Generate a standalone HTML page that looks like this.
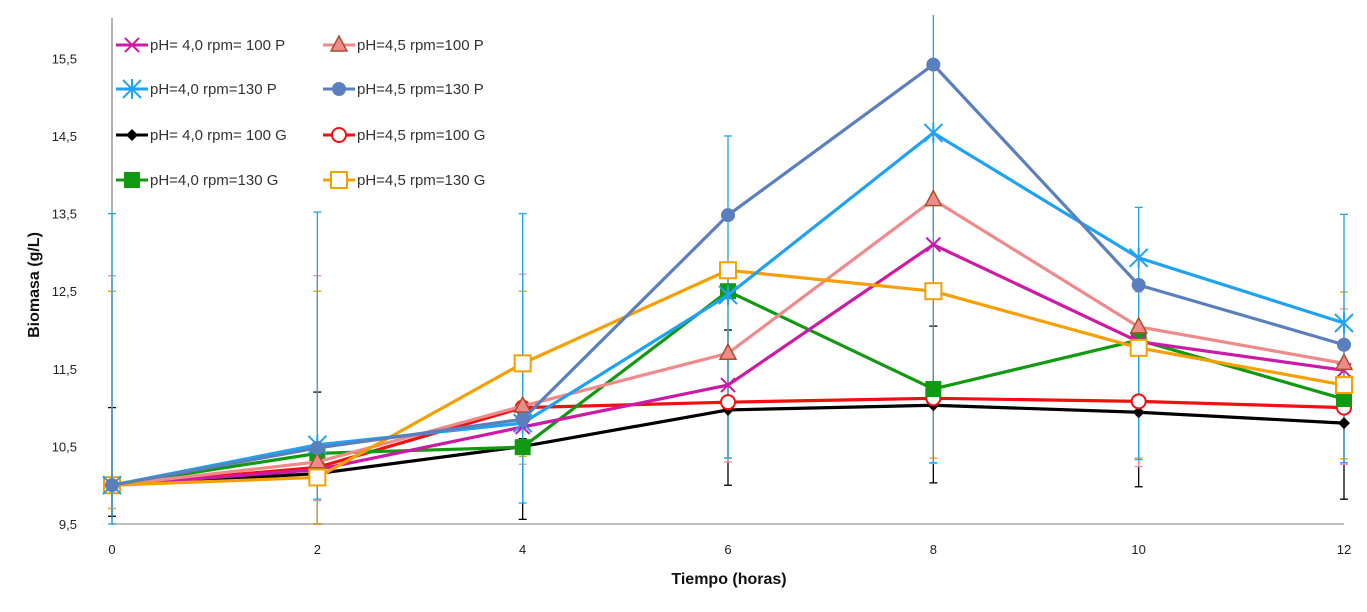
<!DOCTYPE html>
<html><head><meta charset="utf-8"><style>
body{margin:0;background:#fff;}
svg text{font-family:"Liberation Sans",sans-serif;}
</style></head><body>
<svg id="c" width="1367" height="607" xmlns="http://www.w3.org/2000/svg"></svg>
<script>
const hours=[0,2,4,6,8,10,12];
const yTicks=[9.5,10.5,11.5,12.5,13.5,14.5,15.5];
const yTickLabels=["9,5","10,5","11,5","12,5","13,5","14,5","15,5"];
const labels=["pH= 4,0 rpm= 100 P","pH=4,5 rpm=100 P","pH=4,0 rpm=130 P","pH=4,5 rpm=130 P","pH= 4,0 rpm= 100 G","pH=4,5 rpm=100 G","pH=4,0 rpm=130 G","pH=4,5 rpm=130 G"];
const s1=[10.0,10.2,10.75,11.29,13.1,11.85,11.48];
const s2=[10.0,10.3,11.02,11.7,13.68,12.04,11.57];
const s3=[10.0,10.52,10.8,12.45,14.54,12.93,12.09];
const s4=[10.0,10.48,10.85,13.48,15.42,12.58,11.81];
const s5=[10.0,10.15,10.5,10.97,11.03,10.94,10.8];
const s6=[10.0,10.23,11.0,11.07,11.12,11.08,11.0];
const s7=[10.0,10.41,10.49,12.5,11.24,11.87,11.11];
const s8=[10.0,10.1,11.57,12.77,12.5,11.77,11.29];
const errUp3=[3.5,3.0,2.7,2.05,1.55,0.65,1.4];
const errDn3=[0.5,0.7,1.03,2.1,4.25,2.6,1.8];
const errUp2=[2.7,2.4,1.7,0.0,0.0,0.45,0.7];
const errDn2=[0.3,0.5,0.75,1.4,3.4,1.8,1.3];
const errUp8=[2.5,2.4,0.93,0.0,0.0,0.0,1.2];
const errDn8=[0.3,0.6,1.2,2.42,2.15,1.42,0.95];
const errUp5=[1.0,1.05,0.1,1.03,1.02,0.0,0.0];
const errDn5=[0.4,0.65,0.94,0.97,1.0,0.96,0.98];
const series=[
{d:s1,c:"#cc1aa6",m:"x"},{d:s2,c:"#f08a8a",m:"tri"},{d:s3,c:"#1fa2f0",m:"star"},{d:s4,c:"#5a7fbf",m:"circle"},
{d:s5,c:"#000",m:"diamond"},{d:s6,c:"#f01010",m:"ocircle"},{d:s7,c:"#119a11",m:"square"},{d:s8,c:"#f5a000",m:"osquare"}];
const NS="http://www.w3.org/2000/svg",svg=document.getElementById('c');
const X0=112,X1=1344,Y0=524,PY=77.6;
const xs=h=>X0+(h/12)*(X1-X0);
const ys=v=>Y0-(v-9.5)*PY;
function mk(t,a,p){const e=document.createElementNS(NS,t);for(const k in a)e.setAttribute(k,a[k]);(p||svg).appendChild(e);return e;}
const ya=mk('line',{x1:X0,y1:18,x2:X0,y2:Y0,stroke:'#999','stroke-width':1.5});

const xa=mk('line',{x1:X0,y1:Y0,x2:X1,y2:Y0,stroke:'#aaa','stroke-width':1.5});

yTicks.forEach((v,i)=>{const t=mk('text',{x:77,y:ys(v)+5,'text-anchor':'end','font-size':13,fill:'#222'});t.textContent=yTickLabels[i];
});
hours.forEach(h=>{const t=mk('text',{x:xs(h),y:554,'text-anchor':'middle','font-size':13,fill:'#222'});t.textContent=h;
});
const xt=mk('text',{x:729,y:584,'text-anchor':'middle','font-size':16,'font-weight':'bold',fill:'#111'});xt.textContent='Tiempo (horas)';

const yt=mk('text',{x:0,y:0,'text-anchor':'middle','font-size':16,'font-weight':'bold',fill:'#111',transform:'translate(39,285) rotate(-90)'});yt.textContent='Biomasa (g/L)';

const clip=mk('clipPath',{id:'pc'});mk('rect',{x:0,y:15,width:1367,height:560},clip);
const eg=mk('g',{'clip-path':'url(#pc)'});

function errs(d,up,dn,col){hours.forEach((h,i)=>{const x=xs(h),t=ys(d[i]+up[i]),b=ys(d[i]-dn[i]);
mk('line',{x1:x,y1:t,x2:x,y2:b,stroke:col,'stroke-width':1.3},eg);
mk('line',{x1:x-4,y1:t,x2:x+4,y2:t,stroke:col,'stroke-width':1.3},eg);
mk('line',{x1:x-4,y1:b,x2:x+4,y2:b,stroke:col,'stroke-width':1.3},eg);});}
errs(s5,errUp5,errDn5,'#000');errs(s2,errUp2,errDn2,'#e890b0');errs(s8,errUp8,errDn8,'#f5a000');errs(s3,errUp3,errDn3,'#1fa2f0');
function marker(g,m,x,y,c){
if(m==='x'){mk('path',{d:`M${x-7} ${y-7}L${x+7} ${y+7}M${x-7} ${y+7}L${x+7} ${y-7}`,stroke:c,'stroke-width':2},g);}
else if(m==='star'){mk('path',{d:`M${x-9} ${y-9}L${x+9} ${y+9}M${x-9} ${y+9}L${x+9} ${y-9}M${x} ${y-10}L${x} ${y+10}`,stroke:c,'stroke-width':2},g);}
else if(m==='tri'){mk('path',{d:`M${x} ${y-9}L${x+8} ${y+6}L${x-8} ${y+6}Z`,fill:'#f08a8a',stroke:'#a0522d','stroke-width':1.5},g);}
else if(m==='circle'){mk('circle',{cx:x,cy:y,r:7,fill:c},g);}
else if(m==='ocircle'){mk('circle',{cx:x,cy:y,r:7,fill:'#fff',stroke:c,'stroke-width':2},g);}
else if(m==='diamond'){mk('path',{d:`M${x} ${y-6}L${x+6} ${y}L${x} ${y+6}L${x-6} ${y}Z`,fill:c},g);}
else if(m==='square'){mk('rect',{x:x-8,y:y-8,width:16,height:16,fill:c},g);}
else if(m==='osquare'){mk('rect',{x:x-8,y:y-8,width:16,height:16,fill:'#fff',stroke:c,'stroke-width':2},g);}
}
const order=[4,5,6,0,1,7,2,3];
order.forEach(si=>{const s=series[si];const g=mk('g',{});

mk('polyline',{points:s.d.map((v,i)=>xs(hours[i])+','+ys(v)).join(' '),fill:'none',stroke:s.c,'stroke-width':3.2,'stroke-linejoin':'round'},g);
s.d.forEach((v,i)=>marker(g,s.m,xs(hours[i]),ys(v),s.c));});
const lg=mk('g',{});
series.forEach((s,i)=>{const col=i%2,row=Math.floor(i/2);const lx=col?323:116,ly=[45,89,135,180][row];
const e=mk('g',{},lg);
mk('line',{x1:lx,y1:ly,x2:lx+32,y2:ly,stroke:s.c,'stroke-width':3},e);
marker(e,s.m,lx+16,ly,s.c);
const t=mk('text',{x:lx+34,y:ly+5,'font-size':15,fill:'#333'},e);t.textContent=labels[i];});
</script>
</body></html>
